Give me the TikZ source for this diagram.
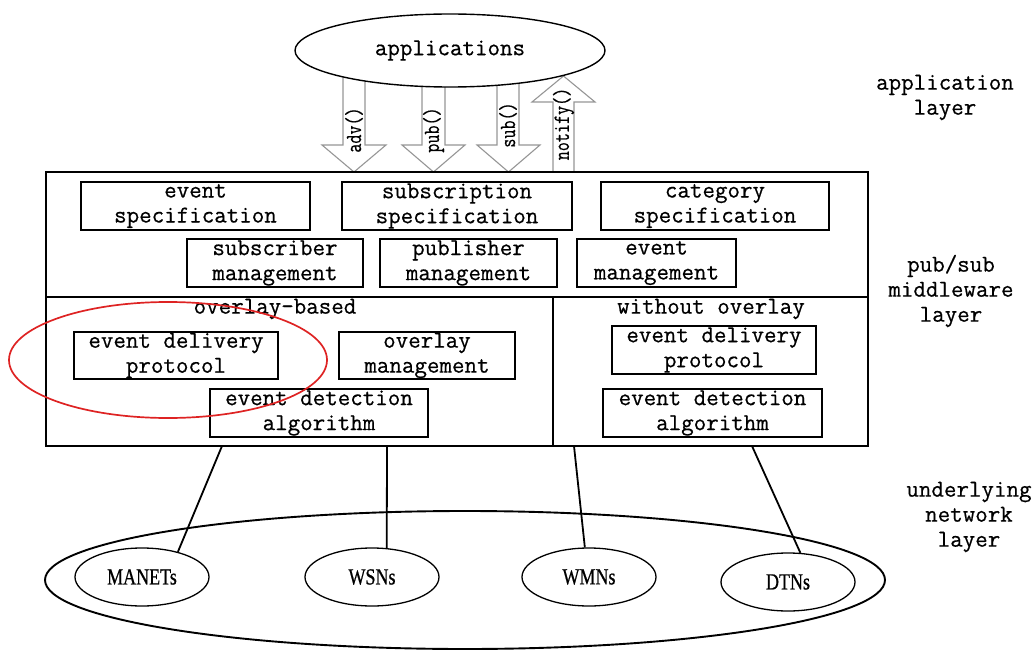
\documentclass[tikz,border=0pt]{standalone}
\usepackage{fontspec}
\setmonofont[FakeBold=0.6]{Latin Modern Mono}
\newfontfamily\netfont[FakeBold=0.8]{Liberation Serif}
\usetikzlibrary{shapes.geometric}
\definecolor{hlred}{RGB}{222,35,35}
\definecolor{arrgray}{RGB}{150,150,150}
\newcommand{\nettext}[1]{\scalebox{0.9}[1.15]{#1}}
\newcommand{\arrtext}[1]{\scalebox{0.8}[1.05]{#1}}
\begin{document}
\begin{tikzpicture}[x=1pt,y=-1pt,
  mono/.style={font=\fontsize{24.3}{25}\selectfont\ttfamily, align=center, inner sep=0pt},
  small/.style={font=\fontsize{22}{24}\selectfont\ttfamily, inner sep=0pt},
  box/.style={mono, draw, line width=1.9pt, minimum height=48pt},
  frame/.style={line width=1.9pt},
  blockarrow/.style={draw=arrgray, line width=1.1pt, fill=white, line join=miter},
  netnode/.style={ellipse, draw, line width=1.3pt, minimum width=134pt, minimum height=58pt, inner sep=0pt, font=\netfont\fontsize{20}{22}\selectfont},
  link/.style={line width=1.8pt}
]
\useasboundingbox (0,0) rectangle (1036,650);

% block arrows
\draw[blockarrow] (343,60) -- (343,145) -- (322,145) -- (354,172) -- (386,145) -- (365,145) -- (365,60) -- cycle;
\draw[blockarrow] (422,60) -- (422,145) -- (402,145) -- (433.5,172) -- (465,145) -- (445,145) -- (445,60) -- cycle;
\draw[blockarrow] (497,60) -- (497,145) -- (477,145) -- (508.5,172) -- (540,145) -- (519,145) -- (519,60) -- cycle;
\draw[blockarrow] (553,172) -- (553,102) -- (532,102) -- (563.5,76) -- (595,102) -- (574,102) -- (574,172) -- cycle;
\node[small, rotate=90] (advl) at (354,130) {\arrtext{adv()}};
\node[small, rotate=90] (publ) at (433.5,130) {\arrtext{pub()}};
\node[small, rotate=90] (subl) at (508,125) {\arrtext{sub()}};
\node[small, rotate=90] (notl) at (563.5,124) {\arrtext{notify()}};

% applications
\node[ellipse, draw, line width=1.4pt, fill=white, minimum width=310pt, minimum height=73pt, mono] (app) at (450,50.5) {applications};

% middleware frame
\draw[frame] (46,172) rectangle (868,446);
\coordinate (dl) at (46,297);
\coordinate (dr) at (868,297);
\coordinate (vt) at (553,297);
\coordinate (vb) at (553,446);
\draw[frame] (dl) -- (dr);
\draw[frame] (vt) -- (vb);

% top boxes
\node[box, minimum width=229pt] (evspec) at (195.5,206) {event\\specification};
\node[box, minimum width=230pt] (subspec) at (457,206) {subscription\\specification};
\node[box, minimum width=228pt] (catspec) at (715,206) {category\\specification};
\node[box, minimum width=176pt] (submgmt) at (275,263) {subscriber\\management};
\node[box, minimum width=177pt] (pubmgmt) at (468.5,263) {publisher\\management};
\node[box, minimum width=159pt] (evmgmt) at (656.5,263) {event\\management};

% overlay-based
\node[mono] (ovlabel) at (275,309) {overlay-based};
\node[box, minimum width=204pt, minimum height=47pt] (edpa) at (176,355.5) {event delivery\\protocol};
\node[box, minimum width=176pt, minimum height=47pt] (ovm) at (427,355.5) {overlay\\management};
\node[box, minimum width=218pt] (edaa) at (319,413) {event detection\\algorithm};

% without overlay
\node[mono] (wolabel) at (711,309) {without overlay};
\node[box, minimum width=204pt] (edpb) at (714,350) {event delivery\\protocol};
\node[box, minimum width=219pt] (edab) at (712.5,413) {event detection\\algorithm};

% red highlight
\draw[hlred, line width=1.7pt] (168,360) ellipse [x radius=159pt, y radius=58pt];

% network layer
\node[ellipse, draw, line width=1.9pt, minimum width=840pt, minimum height=138pt] (net) at (465,580) {};
\node[netnode] (manets) at (142,577) {\nettext{MANETs}};
\node[netnode] (wsns) at (372,577) {\nettext{WSNs}};
\node[netnode] (wmns) at (589,577) {\nettext{WMNs}};
\node[netnode] (dtns) at (788,582) {\nettext{DTNs}};

\coordinate (c1) at (222,446);
\coordinate (c2) at (387,446);
\coordinate (c3) at (574,446);
\coordinate (c4) at (752,446);
\draw[link] (c1) -- (manets.35);
\draw[link] (c2) -- (wsns.63);
\draw[link] (c3) -- (wmns.98);
\draw[link] (c4) -- (dtns.67);

% layer labels
\node[mono] (lapp) at (945,97.5) {application\\layer};
\node[mono] (lmid) at (951,291) {pub/sub\\middleware\\layer};
\node[mono] (lnet) at (969,517) {underlying\\network\\layer};
\end{tikzpicture}
\end{document}
